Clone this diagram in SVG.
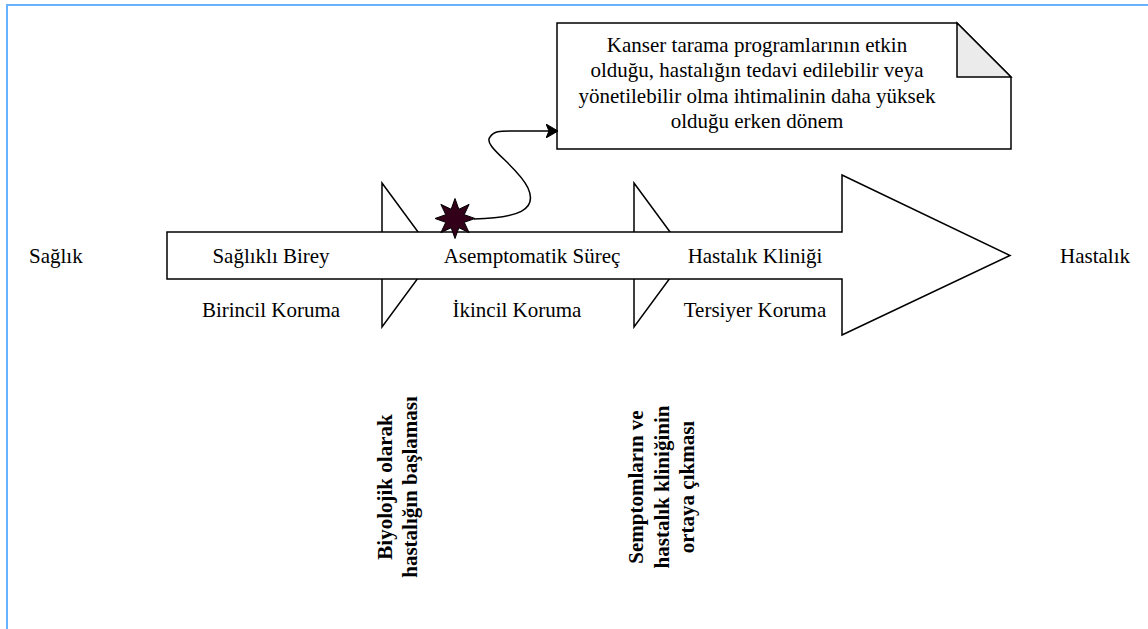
<svg xmlns="http://www.w3.org/2000/svg" width="1148" height="629" viewBox="0 0 1148 629">
<style>
.shape{fill:#ffffff;stroke:#000000;stroke-width:1.5;stroke-linejoin:miter}
.lbl{font-family:"Liberation Serif","Times New Roman",serif;font-size:21px;fill:#000000}
.c{text-anchor:middle}
.b{font-weight:bold}
.edge{fill:none;stroke:#000000;stroke-width:1.5}
</style>
<defs>
<marker id="arr" markerUnits="userSpaceOnUse" viewBox="0 0 12 14" refX="11" refY="7" markerWidth="12" markerHeight="14" orient="auto">
<path d="M0,0 L12,7 L0,14 L3,7 Z" fill="#000000" stroke="#000000" stroke-width="1"/>
</marker>
</defs>
<rect width="1148" height="629" fill="#ffffff"/>
<path d="M7,629 V5 H1148" fill="none" stroke="#66b2ff" stroke-width="2"/>

<g id="marker1"><polygon class="shape" points="382,183 435,255 382,327"/></g>
<g id="marker2"><polygon class="shape" points="634,183 687,255 634,327"/></g>

<g id="mainArrow">
<polygon class="shape" points="167,232 842,232 842,175 1010,255.5 842,335 842,279 167,279"/>
</g>

<g id="saglik"><text class="lbl" x="29" y="263">Sağlık</text></g>
<g id="hastalik"><text class="lbl" x="1060" y="263">Hastalık</text></g>
<g id="saglikliBirey"><text class="lbl c" x="271" y="263">Sağlıklı Birey</text></g>
<g id="birincil"><text class="lbl c" x="271" y="317">Birincil Koruma</text></g>
<g id="asemptomatik"><text class="lbl c" x="532" y="263">Asemptomatik Süreç</text></g>
<g id="ikincil"><text class="lbl c" x="517" y="317">İkincil Koruma</text></g>
<g id="klinik"><text class="lbl c" x="755" y="263">Hastalık Kliniği</text></g>
<g id="tersiyer"><text class="lbl c" x="755" y="317">Tersiyer Koruma</text></g>

<g id="baslama">
<text class="lbl c b" transform="translate(392,487) rotate(-90)"><tspan x="0" y="0">Biyolojik olarak</tspan><tspan x="0" y="25">hastalığın başlaması</tspan></text>
</g>
<g id="semptom">
<text class="lbl c b" transform="translate(643,487) rotate(-90)"><tspan x="0" y="0">Semptomların ve</tspan><tspan x="0" y="25.5">hastalık kliniğinin</tspan><tspan x="0" y="51">ortaya çıkması</tspan></text>
</g>

<g id="star">
<polygon points="455,198.5 458.83,209.26 469.14,204.36 464.24,214.67 475,218.5 464.24,222.33 469.14,232.64 458.83,227.74 455,238.5 451.17,227.74 440.86,232.64 445.76,222.33 435,218.5 445.76,214.67 440.86,204.36 451.17,209.26" fill="#33001a" stroke="#000000" stroke-width="1"/>
</g>

<g id="note">
<path class="shape" d="M557,23 H957 L1011,77 V149 H557 Z"/>
<path d="M957,23 V77 H1011 Z" fill="#ebebeb" stroke="#000000" stroke-width="1.5" stroke-linejoin="miter"/>
<text class="lbl c" x="757"><tspan x="757" y="51.5">Kanser tarama programlarının etkin</tspan><tspan x="757" y="77">olduğu, hastalığın tedavi edilebilir veya</tspan><tspan x="757" y="102.5">yönetilebilir olma ihtimalinin daha yüksek</tspan><tspan x="757" y="128">olduğu erken dönem</tspan></text>
</g>

<g id="connectors">
<path class="edge" d="M474,219 C518,218 538,210 528,188 C518,166 482,146 490,137 C494,131 500,131 510,131 L557,131" marker-end="url(#arr)"/>
</g>
</svg>
